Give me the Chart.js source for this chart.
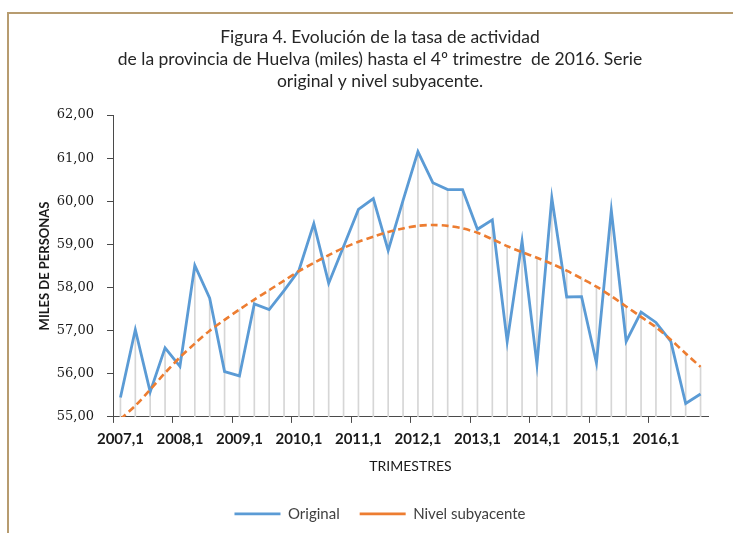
<!DOCTYPE html>
<html>
<head>
<meta charset="utf-8">
<script src="https://cdn.jsdelivr.net/npm/chart.js@4"></script>
<style>
  html, body { margin: 0; padding: 0; background: #fff; }
  #frame {
    position: absolute; left: 7px; top: 12px; width: 740px; height: 540px;
    border-top: 2px solid #b79c70; border-left: 2px solid #b79c70;
  }
  #wrap { position: absolute; left: 0; top: 0; width: 733px; height: 533px; }
</style>
</head>
<body>
<div id="frame"></div>
<div id="wrap"><canvas id="chart"></canvas></div>
<script>
// años y trimestres del eje X
const years = [2007, 2008, 2009, 2010, 2011, 2012, 2013, 2014, 2015, 2016];
const quarters = [1, 2, 3, 4];
const labels = [];
years.forEach(y => quarters.forEach(q => labels.push(y + "," + q)));

// Serie original (miles de personas)
const original = [
  55.45, 57.02, 55.58, 56.60,
  56.17, 58.51, 57.75, 56.05,
  55.95, 57.62, 57.49, 57.93,
  58.40, 59.48, 58.10, 58.95,
  59.81, 60.06, 58.86, 60.02,
  61.15, 60.43, 60.27, 60.27,
  59.35, 59.57, 56.75, 59.08,
  56.22, 60.08, 57.78, 57.79,
  56.25, 59.79, 56.75, 57.43,
  57.19, 56.75, 55.31, 55.53
];

// Nivel subyacente (tendencia)
const subyacente = [
  54.95, 55.26, 55.63, 56.02,
  56.38, 56.70, 57.00, 57.25,
  57.49, 57.72, 57.94, 58.16,
  58.38, 58.57, 58.75, 58.92,
  59.06, 59.18, 59.29, 59.37,
  59.43, 59.45, 59.43, 59.37,
  59.27, 59.12, 58.96, 58.82,
  58.69, 58.55, 58.39, 58.21,
  58.02, 57.80, 57.56, 57.32,
  57.08, 56.79, 56.47, 56.16
];

// líneas de referencia verticales (hasta el punto más alto de cada trimestre)
const dropLines = original.map((v, i) => Math.max(v, subyacente[i]));

const yTicks = { min: 55, max: 62, step: 1 };

Chart.defaults.font.family = "Lato, 'Open Sans', sans-serif";
Chart.defaults.color = "#262626";

const axisColor = "#4a4a4a";

new Chart(document.getElementById("chart"), {
  type: "line",
  data: {
    labels,
    datasets: [
      {
        label: "Original",
        data: original,
        borderColor: "#5b9bd5",
        backgroundColor: "#5b9bd5",
        borderWidth: 2.8,
        pointRadius: 0,
        tension: 0,
        order: 1
      },
      {
        label: "Nivel subyacente",
        data: subyacente,
        borderColor: "#ed7d31",
        backgroundColor: "#ed7d31",
        borderWidth: 2.6,
        borderDash: [7, 4],
        pointRadius: 0,
        tension: 0.3,
        order: 0
      },
      {
        type: "bar",
        label: "drop",
        data: dropLines,
        backgroundColor: "#d6d6d6",
        borderWidth: 0,
        barThickness: 1,
        order: 2
      }
    ]
  },
  options: {
    responsive: true,
    maintainAspectRatio: false,
    animation: false,
    layout: { padding: { left: 52, right: 25, top: 0, bottom: 1.6 } },
    plugins: {
      title: {
        display: true,
        text: [
          "Figura 4. Evolución de la tasa de actividad",
          "de la provincia de Huelva (miles) hasta el 4º trimestre  de 2016. Serie",
          "original y nivel subyacente."
        ],
        font: { size: 17.5, weight: "normal", lineHeight: "22px" },
        color: "#262626",
        padding: { top: 26, bottom: 23 }
      },
      legend: {
        position: "bottom",
        labels: {
          filter: item => item.datasetIndex !== 2,
          sort: (a, b) => a.datasetIndex - b.datasetIndex,
          usePointStyle: true,
          pointStyle: "line",
          pointStyleWidth: 46,
          font: { size: 15 },
          color: "#404040",
          padding: 20
        }
      },
      tooltip: { enabled: false }
    },
    scales: {
      x: {
        offset: true,
        grid: {
          offset: true,
          drawOnChartArea: false,
          tickLength: 6,
          color: ctx => (ctx.index % 4 === 0 ? axisColor : "transparent")
        },
        border: { display: true, color: axisColor, width: 1 },
        ticks: {
          autoSkip: false,
          maxRotation: 0,
          padding: 7,
          font: { size: 15, weight: "bold" },
          color: "#1a1a1a",
          callback: (v, i) => (i % 4 === 0 ? labels[i] : "")
        },
        title: {
          display: true,
          text: "TRIMESTRES",
          font: { size: 14 },
          color: "#1a1a1a",
          padding: { top: 0, bottom: 12 }
        },
        afterFit: s => { s.height = 69.5; }
      },
      y: {
        min: yTicks.min,
        max: yTicks.max,
        grid: { drawOnChartArea: false, tickLength: 6, color: axisColor },
        border: { display: true, color: axisColor, width: 1 },
        ticks: {
          stepSize: yTicks.step,
          padding: 13,
          font: { family: "'DejaVu Serif', serif", size: 13 },
          color: "#1a1a1a",
          callback: v => v.toFixed(2).replace(".", ",")
        },
        title: {
          display: true,
          text: "MILES DE PERSONAS",
          font: { size: 13, weight: "bold" },
          color: "#1a1a1a",
          padding: { top: -14.8, bottom: 0 }
        },
        afterFit: s => { s.width = 61; }
      }
    }
  }
});
</script>
</body>
</html>
